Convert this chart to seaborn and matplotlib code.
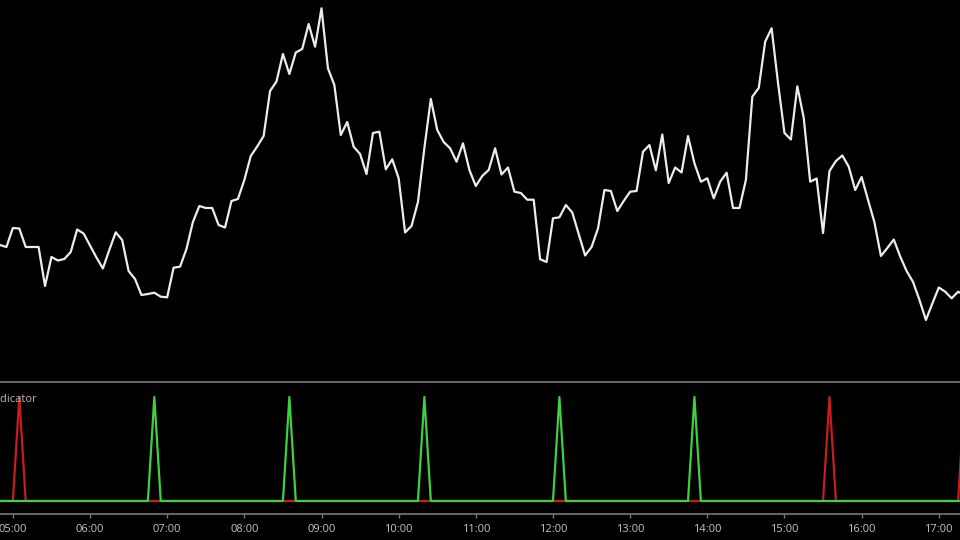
import numpy as np
import pandas as pd
import matplotlib
matplotlib.use("Agg")
import matplotlib.pyplot as plt
import matplotlib.dates as mdates
import seaborn as sns

# ---------------- data ----------------
start_time = "2024-01-02 04:50"
interval_minutes = 5
price = [
    95, 93, 112, 111.5, 93, 93, 93, 54, 83, 79.5,
    81, 88, 110.5, 106.5, 94.5, 82.5, 71.5, 90, 107.7, 100,
    69, 61, 45, 46, 47.3, 43.3, 42.7, 72.3, 73.3, 91,
    118, 134, 132, 132, 115, 112.5, 139, 141, 160, 184,
    193.5, 204, 249, 258.5, 286, 266, 287.5, 291, 316, 293.3,
    331.7, 271.7, 255, 205, 218, 193.3, 186, 166, 207, 208.3,
    170.7, 180.7, 161.7, 107.5, 114, 138, 192, 241, 210, 198,
    191.7, 178.3, 196.7, 170, 154, 164, 170, 191.7, 165.5, 172.5,
    148.3, 147, 140.3, 140.3, 80.7, 78, 121.7, 122.7, 135, 127.5,
    106, 84.5, 93, 111.5, 150, 149, 129, 139, 148.3, 149,
    188.3, 195, 169.7, 205.5, 157, 172.5, 167.5, 204, 176.7, 158.3,
    161.7, 141.7, 158.3, 167.3, 132, 132, 160, 243.3, 252, 298.3,
    311.7, 257, 207, 200.5, 253.7, 222, 158.3, 161.5, 107, 169,
    179, 184.5, 173.3, 150, 163, 140, 117.5, 84, 92, 100.5,
    83.5, 69, 58, 40, 20, 36.5, 52.5, 48.3, 41.7, 48.3,
    45,
]
buy_signals = ["06:50", "08:35", "10:20", "12:05", "13:50"]
sell_signals = ["05:05", "15:35", "17:20"]
hour_ticks = ["05:00", "06:00", "07:00", "08:00", "09:00", "10:00", "11:00",
              "12:00", "13:00", "14:00", "15:00", "16:00", "17:00"]
panel_label = "Indicator"

# ---------------- build frames ----------------
times = pd.date_range(start_time, periods=len(price), freq=f"{interval_minutes}min")
day = times[0].strftime("%Y-%m-%d")
clock = times.strftime("%H:%M")
df = pd.DataFrame({
    "time": times,
    "price": price,
    "buy": [1.0 if c in buy_signals else 0.0 for c in clock],
    "sell": [1.0 if c in sell_signals else 0.0 for c in clock],
})

# ---------------- style ----------------
sns.set_style("dark")
plt.rcParams["font.family"] = ["Open Sans", "DejaVu Sans"]
bg = "#000000"
axis_grey = "#7a7a7a"
text_grey = "#c4c4c4"

fig = plt.figure(figsize=(9.6, 5.4), dpi=100, facecolor=bg)

x0 = pd.Timestamp(start_time)
x1 = x0 + pd.Timedelta(minutes=746.5)

# main price panel
ax = fig.add_axes([0, 170 / 540, 1, 370 / 540])
ax.set_facecolor(bg)
sns.lineplot(data=df, x="time", y="price", ax=ax, color="#ececec", linewidth=1.6)
ax.set_xlim(x0, x1)
ax.set_ylim(-30, 340)
ax.set_axis_off()

# indicator panel
ax2 = fig.add_axes([0, 26 / 540, 1, 132 / 540])
ax2.set_facecolor(bg)
sns.lineplot(data=df, x="time", y="sell", ax=ax2, color="#c41e1e", linewidth=1.6)
sns.lineplot(data=df, x="time", y="buy", ax=ax2, color="#3fd03f", linewidth=1.6)
ax2.set_xlim(x0, x1)
ax2.set_ylim(-0.125, 1.144)
ax2.set_xlabel("")
ax2.set_ylabel("")
ax2.set_yticks([])
ax2.grid(False)
for side in ["left", "right"]:
    ax2.spines[side].set_visible(False)
for side in ["top", "bottom"]:
    ax2.spines[side].set_visible(True)
    ax2.spines[side].set_color(axis_grey)
    ax2.spines[side].set_linewidth(1.2)

tick_pos = [pd.Timestamp(f"{day} {h}") for h in hour_ticks]
ax2.set_xticks(tick_pos)
ax2.set_xticklabels(hour_ticks)
ax2.tick_params(axis="x", colors=axis_grey, length=3, width=1, pad=4,
                labelcolor=text_grey, labelsize=8, bottom=True)

fig.text(-9.5 / 960, (540 - 402) / 540, panel_label, color="#b8b8b8",
         fontsize=8, ha="left", va="baseline")

fig.savefig("out.png", dpi=100, facecolor=bg)
